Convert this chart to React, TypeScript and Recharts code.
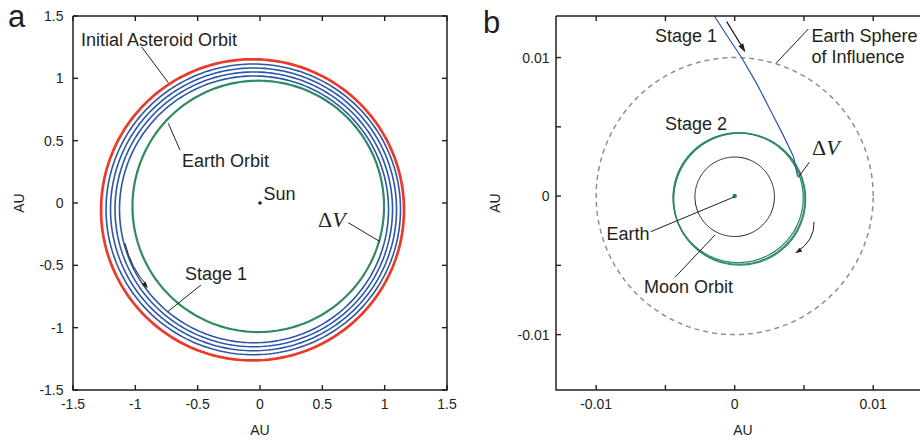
import React from 'react';
import { ComposedChart, Scatter, XAxis, YAxis } from 'recharts';

const FONT = '"Liberation Sans", Arial, Helvetica, sans-serif';
const INK = '#231f20';
const RED = '#ec3a28';
const BLUE = '#2c56a8';
const GREEN = '#2f8a64';
const GREY = '#8e8e8e';

// ---------- Panel a (heliocentric) ----------
const aTicks = [-1.5, -1, -0.5, 0, 0.5, 1, 1.5];
const aTickLabels = ['-1.5', '-1', '-0.5', '0', '0.5', '1', '1.5'];
const aDomain = [-1.5, 1.5];

// orbits as [centerX, centerY, radiusX, radiusY] in AU
const asteroidOrbit = [-0.06, -0.055, 1.215, 1.208];
const stage1Loop1 = [-0.054, -0.051, 1.181, 1.166];
const stage1Loop2 = [-0.052, -0.051, 1.147, 1.134];
const stage1Loop3 = [-0.05, -0.051, 1.113, 1.102];
const stage1Loop4 = [-0.048, -0.051, 1.079, 1.07];
const earthOrbit = [-0.014, -0.027, 1.009, 1.008];
const sunPoint = [{ x: 0, y: 0 }];

// ---------- Panel b (geocentric) ----------
const bTicks = [-0.01, -0.005, 0, 0.005, 0.01];
const bTickLabels = ['-0.01', '', '0', '', '0.01'];
const bXDomain = [-0.0129, 0.0141];
const bYDomain = [-0.014, 0.013];

const sphereOfInfluence = [0, 0, 0.01, 0.01];
const moonOrbit = [0, -0.00005, 0.00287, 0.00287];
const stage2Loop1 = [0.00025, -0.00012, 0.0047, 0.00468];
const stage2Loop2 = [0.00032, -0.00018, 0.00475, 0.00474];
const stage2Loop3 = [0.00036, -0.00022, 0.00476, 0.00476];
const stage1Approach = [
  { x: -0.00147, y: 0.013 },
  { x: -0.0005, y: 0.0115 },
  { x: 0.00053, y: 0.00995 },
  { x: 0.0016, y: 0.0081 },
  { x: 0.00257, y: 0.00622 },
  { x: 0.0035, y: 0.0044 },
  { x: 0.00425, y: 0.00284 },
  { x: 0.00454, y: 0.0014 },
];
const earthPoint = [{ x: 0, y: 0 }];

// plot boxes (page pixels): [left, top, width, height]
const aBox = [73, 16, 374, 374];
const bBox = [556, 16, 374, 374];

// sample an orbit ellipse given its parameters
const orbit = ([cx, cy, rx, ry]: number[], n = 240) =>
  Array.from({ length: n + 1 }, (_, i) => {
    const t = (2 * Math.PI * i) / n;
    return { x: cx + rx * Math.cos(t), y: cy + ry * Math.sin(t) };
  });

// plot frame through the domain corners
const frame = (xd: number[], yd: number[]) => [
  { x: xd[0], y: yd[1] },
  { x: xd[0], y: yd[0] },
  { x: xd[1], y: yd[0] },
  { x: xd[1], y: yd[1] },
  { x: xd[0], y: yd[1] },
];

const TL = 5;
const TW = 1.4;
const labelFor = (ticks: number[], labels: string[], v: number) => {
  const i = ticks.findIndex((t) => Math.abs(t - v) < 1e-9);
  return i >= 0 ? labels[i] : '';
};

const makeBottomTick = (ticks: number[], labels: string[]) => (p: any) => {
  const lab = labelFor(ticks, labels, p.payload.value);
  return lab ? (
    <text x={p.x} y={p.y + 18.5} textAnchor="middle" fontSize={14} fontFamily={FONT} fill={INK}>
      {lab}
    </text>
  ) : (
    <g />
  );
};
const makeLeftTick = (ticks: number[], labels: string[], gap: number) => (p: any) => {
  const lab = labelFor(ticks, labels, p.payload.value);
  return lab ? (
    <text x={p.x - gap} y={p.y + 5} textAnchor="end" fontSize={14} fontFamily={FONT} fill={INK}>
      {lab}
    </text>
  ) : (
    <g />
  );
};

const NoShape = () => <g />;
const SunDot = (p: any) => <circle cx={p.cx} cy={p.cy} r={1.8} fill={INK} />;
const EarthDot = (p: any) => <circle cx={p.cx} cy={p.cy} r={2.2} fill="#1f7f8c" />;

const yTitle = (offset: number) => (p: any) => {
  const vb = p.viewBox || { x: 0, y: 0, width: 0, height: 0 };
  const x = vb.x + offset;
  const y = vb.y + vb.height / 2;
  return (
    <text
      x={x}
      y={y}
      transform={`rotate(-90, ${x}, ${y})`}
      dy={5}
      textAnchor="middle"
      fontSize={14}
      fontFamily={FONT}
      fill={INK}
    >
      AU
    </text>
  );
};

const pathLine = (data: { x: number; y: number }[], stroke: string, w: number, dash?: string) => (
  <Scatter
    data={data}
    line={{ stroke, strokeWidth: w, strokeDasharray: dash, fill: 'none' }}
    lineType="joint"
    shape={NoShape}
    isAnimationActive={false}
  />
);
const orbitLine = (params: number[], stroke: string, w: number, dash?: string) =>
  pathLine(orbit(params), stroke, w, dash);

function PanelA() {
  return (
    <ComposedChart width={460} height={441} margin={{ top: 16, right: 13, bottom: 0, left: 0 }}>
      <XAxis
        type="number"
        dataKey="x"
        domain={aDomain}
        ticks={aTicks}
        interval={0}
        height={51}
        tickSize={0}
        tickMargin={0}
        tickLine={false}
        axisLine={false}
        tick={makeBottomTick(aTicks, aTickLabels)}
        label={{ value: 'AU', position: 'insideBottom', offset: 6, fontSize: 14, fill: INK, fontFamily: FONT }}
      />
      <YAxis
        type="number"
        dataKey="y"
        domain={aDomain}
        ticks={aTicks}
        interval={0}
        width={73}
        tickSize={0}
        tickMargin={0}
        tickLine={false}
        axisLine={false}
        tick={makeLeftTick(aTicks, aTickLabels, 9.5)}
        label={yTitle(19)}
      />
      {orbitLine(stage1Loop1, BLUE, 1.6)}
      {orbitLine(stage1Loop2, BLUE, 1.6)}
      {orbitLine(stage1Loop3, BLUE, 1.6)}
      {orbitLine(stage1Loop4, BLUE, 1.6)}
      {orbitLine(earthOrbit, GREEN, 2.2)}
      {orbitLine(asteroidOrbit, RED, 2.7)}
      <Scatter data={sunPoint} shape={SunDot} isAnimationActive={false} />
      {pathLine(frame(aDomain, aDomain), INK, 1.5)}
    </ComposedChart>
  );
}

function PanelB() {
  return (
    <ComposedChart width={480} height={441} margin={{ top: 16, right: 10, bottom: 0, left: 0 }}>
      <XAxis
        type="number"
        dataKey="x"
        domain={bXDomain}
        ticks={bTicks}
        interval={0}
        height={51}
        tickSize={0}
        tickMargin={0}
        tickLine={false}
        axisLine={false}
        tick={makeBottomTick(bTicks, bTickLabels)}
        label={{ value: 'AU', position: 'insideBottom', offset: 6, fontSize: 14, fill: INK, fontFamily: FONT }}
      />
      <YAxis
        type="number"
        dataKey="y"
        domain={bYDomain}
        ticks={bTicks}
        interval={0}
        width={96}
        tickSize={0}
        tickMargin={0}
        tickLine={false}
        axisLine={false}
        tick={makeLeftTick(bTicks, bTickLabels, 6.5)}
        label={yTitle(35)}
      />
      {orbitLine(sphereOfInfluence, GREY, 1.5, '5 4')}
      {orbitLine(moonOrbit, INK, 1)}
      {orbitLine(stage2Loop1, GREEN, 1.3)}
      {orbitLine(stage2Loop2, GREEN, 1.3)}
      {orbitLine(stage2Loop3, GREEN, 1.3)}
      {pathLine(stage1Approach, BLUE, 1.2)}
      <Scatter data={earthPoint} shape={EarthDot} isAnimationActive={false} />
      {pathLine(frame(bXDomain, bYDomain), INK, 1.5)}
    </ComposedChart>
  );
}

// inward tick marks along the frame, as thin filled rectangles
function TickMarks({
  box,
  xd,
  yd,
  ticks,
  right,
}: {
  box: number[];
  xd: number[];
  yd: number[];
  ticks: number[];
  right: boolean;
}) {
  const [l, t, w, h] = box;
  const sx = (v: number) => l + ((v - xd[0]) / (xd[1] - xd[0])) * w;
  const sy = (v: number) => t + h - ((v - yd[0]) / (yd[1] - yd[0])) * h;
  const out: React.ReactNode[] = [];
  ticks.forEach((v, i) => {
    const x = sx(v);
    const y = sy(v);
    out.push(<rect key={`b${i}`} x={x - TW / 2} y={t + h - TL} width={TW} height={TL} fill={INK} />);
    out.push(<rect key={`t${i}`} x={x - TW / 2} y={t} width={TW} height={TL} fill={INK} />);
    out.push(<rect key={`l${i}`} x={l} y={y - TW / 2} width={TL} height={TW} fill={INK} />);
    if (right) out.push(<rect key={`r${i}`} x={l + w - TL} y={y - TW / 2} width={TL} height={TW} fill={INK} />);
  });
  return <g>{out}</g>;
}

// arrowhead polygon at tip (x2,y2) pointing away from (x1,y1)
const head = (x1: number, y1: number, x2: number, y2: number, len = 8, hw = 2.6) => {
  const dx = x2 - x1;
  const dy = y2 - y1;
  const d = Math.hypot(dx, dy) || 1;
  const ux = dx / d;
  const uy = dy / d;
  const bx = x2 - ux * len;
  const by = y2 - uy * len;
  return `${x2},${y2} ${bx - uy * hw},${by + ux * hw} ${bx + uy * hw},${by - ux * hw}`;
};

function Annotations() {
  const t = { fontFamily: FONT, fontSize: 18, fill: INK } as const;
  const dv = (x: number, y: number) => (
    <text x={x} y={y} fontFamily='"Liberation Serif", "Times New Roman", serif' fontSize={22} fill={INK}>
      Δ<tspan fontStyle="italic">V</tspan>
    </text>
  );
  const ln = { stroke: INK, strokeWidth: 1 };
  return (
    <svg width={920} height={441} style={{ position: 'absolute', left: 0, top: 0, pointerEvents: 'none' }}>
      <TickMarks box={aBox} xd={aDomain} yd={aDomain} ticks={aTicks} right={true} />
      <TickMarks box={bBox} xd={bXDomain} yd={bYDomain} ticks={bTicks} right={false} />

      {/* panel a */}
      <text x={8} y={27} fontFamily={FONT} fontSize={31} fill={INK}>a</text>
      <text x={81} y={45.5} {...t}>Initial Asteroid Orbit</text>
      <line x1={141.7} y1={47} x2={168.3} y2={82.7} {...ln} />
      <text x={182} y={166.5} {...t}>Earth Orbit</text>
      <line x1={180} y1={150} x2={168.3} y2={123.3} {...ln} />
      <text x={263.5} y={199.5} {...t}>Sun</text>
      <text x={185} y={280} {...t}>Stage 1</text>
      <line x1={201} y1={285} x2={167.7} y2={311.7} {...ln} />
      <path d="M125,243.3 Q131,268 146.5,285" fill="none" {...ln} />
      <polygon points={head(138, 276, 148, 288.5, 7, 2.3)} fill={INK} />
      {dv(318, 227)}
      <line x1={348.3} y1={222.7} x2={380} y2={241.7} {...ln} />

      {/* panel b */}
      <text x={483} y={33.3} fontFamily={FONT} fontSize={31} fill={INK}>b</text>
      <text x={655} y={41.5} {...t}>Stage 1</text>
      <line x1={726.7} y1={21.7} x2={742} y2={46.5} stroke={INK} strokeWidth={1.3} />
      <polygon points={head(726.7, 21.7, 745.5, 52.5, 9, 2.8)} fill={INK} />
      <text x={811.5} y={41.5} {...t}>Earth Sphere</text>
      <text x={811.5} y={63} {...t}>of Influence</text>
      <line x1={808.3} y1={29} x2={776} y2={63.3} {...ln} />
      <text x={665} y={130} {...t}>Stage 2</text>
      {dv(812, 155)}
      <line x1={809.3} y1={162.3} x2={798.3} y2={177.3} {...ln} />
      <text x={606.5} y={239.5} {...t}>Earth</text>
      <line x1={650.7} y1={231.7} x2={734} y2={197} {...ln} />
      <text x={644} y={292.5} {...t}>Moon Orbit</text>
      <line x1={675} y1={277.3} x2={715} y2={235} {...ln} />
      <path d="M814,221.7 Q815,240 797,252" fill="none" {...ln} />
      <polygon points={head(806, 246.5, 795, 253.3, 7, 2.3)} fill={INK} />
    </svg>
  );
}

export default function App() {
  return (
    <div
      style={{
        position: 'absolute',
        left: 0,
        top: 0,
        width: 920,
        height: 441,
        overflow: 'hidden',
        background: '#fff',
      }}
    >
      <div style={{ position: 'absolute', left: 0, top: 0 }}>
        <PanelA />
      </div>
      <div style={{ position: 'absolute', left: 460, top: 0 }}>
        <PanelB />
      </div>
      <Annotations />
    </div>
  );
}
